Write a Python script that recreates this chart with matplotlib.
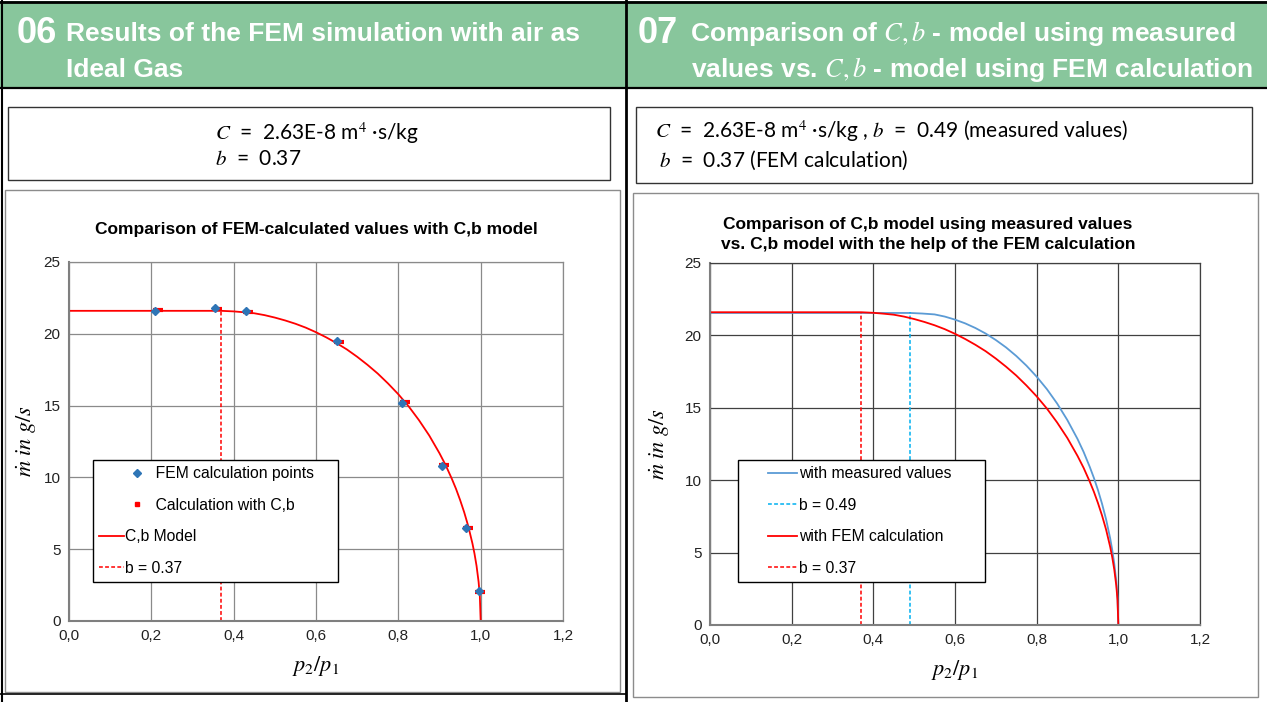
import numpy as np
import matplotlib.pyplot as plt
from matplotlib.patches import Rectangle
from matplotlib.lines import Line2D
from matplotlib.legend_handler import HandlerLine2D
from matplotlib.ticker import FuncFormatter

plt.rcParams['font.family'] = ['Liberation Sans', 'DejaVu Sans']
plt.rcParams['mathtext.fontset'] = 'stix'

# ---- data ----
fem_x = [0.21, 0.355, 0.43, 0.65, 0.81, 0.905, 0.965, 0.995]
fem_y = [21.6, 21.8, 21.6, 19.5, 15.2, 10.8, 6.5, 2.1]
calc_x = [0.215, 0.36, 0.435, 0.655, 0.815, 0.91, 0.97, 0.998]
calc_y = [21.65, 21.7, 21.55, 19.4, 15.25, 10.85, 6.5, 2.05]

# C,b model curve, b = 0.37 (FEM)
fem_model_x = [0.0, 0.37, 0.40, 0.425, 0.45, 0.475, 0.50, 0.525, 0.55, 0.575, 0.60,
               0.625, 0.65, 0.675, 0.70, 0.725, 0.75, 0.775, 0.80, 0.825, 0.85,
               0.875, 0.90, 0.915, 0.93, 0.94, 0.95, 0.96, 0.97, 0.98, 0.985,
               0.99, 0.995, 0.998, 1.0]
fem_model_y = [21.6, 21.6, 21.56, 21.50, 21.43, 21.30, 21.13, 20.93, 20.70, 20.43,
               20.11, 19.75, 19.35, 18.91, 18.40, 17.84, 17.23, 16.54, 15.79, 14.95,
               13.99, 12.92, 11.68, 10.85, 9.90, 9.21, 8.43, 7.57, 6.59, 5.40, 4.69,
               3.84, 2.72, 1.72, 0.0]
# C,b model curve, b = 0.49 (measured)
meas_model_x = [0.0, 0.49, 0.52, 0.55, 0.575, 0.60, 0.625, 0.65, 0.675, 0.70, 0.725,
                0.75, 0.775, 0.80, 0.825, 0.85, 0.875, 0.90, 0.915, 0.93, 0.94,
                0.95, 0.96, 0.97, 0.98, 0.985, 0.99, 0.995, 0.998, 1.0]
meas_model_y = [21.55, 21.55, 21.51, 21.45, 21.30, 21.09, 20.83, 20.51, 20.13,
                19.68, 19.17, 18.58, 17.91, 17.15, 16.29, 15.30, 14.16, 12.85,
                11.95, 10.92, 10.17, 9.33, 8.38, 7.30, 5.99, 5.20, 4.25, 3.02,
                1.91, 0.0]
b_fem = 0.37
b_meas = 0.49
m_max = 21.6

W, H = 1267, 702
fig = plt.figure(figsize=(W / 100, H / 100), dpi=100)
bg = fig.add_axes([0, 0, 1, 1])
bg.set_xlim(0, W)
bg.set_ylim(H, 0)
bg.axis('off')

green = '#88C69C'
# headers
bg.add_patch(Rectangle((0, 1), 626, 87, fc=green, ec='none'))
bg.add_patch(Rectangle((627, 1), 640, 87, fc=green, ec='none'))
bg.plot([0, W], [1.5, 1.5], color='black', lw=2)
bg.plot([0, W], [88, 88], color='black', lw=1.6)
bg.plot([626, 626], [0, H], color='black', lw=2)
bg.plot([1.5, 1.5], [0, H], color='black', lw=1.5)
bg.plot([0, 626], [694, 694], color='black', lw=1.2)

hdr = dict(color='white', fontweight='bold', va='baseline')
bg.text(17, 43, '06', fontsize=26, **hdr)
bg.text(66, 41, 'Results of the FEM simulation with air as', fontsize=19, **hdr)
bg.text(66, 77, 'Ideal Gas', fontsize=19, **hdr)
bg.text(638, 43, '07', fontsize=26, **hdr)
bg.text(690, 41, 'Comparison of $C, b$ - model using measured', fontsize=19, **hdr)
bg.text(1253, 77, 'values vs. $C, b$ - model using FEM calculation', fontsize=19,
        ha='right', **hdr)

# formula boxes
bg.add_patch(Rectangle((8, 107), 602, 73, fc='white', ec='#333333', lw=1))
bg.add_patch(Rectangle((636, 107), 616, 76, fc='white', ec='#333333', lw=1))
box = dict(fontsize=15, family=['Lato', 'DejaVu Sans'], va='baseline', color='black')
bg.text(215, 140, r'$C$  =  2.63E-8 m$^{4}$ ·s/kg', **box)
bg.text(215, 165, r'$b$  =  0.37', **box)
bg.text(655, 138, r'$C$  =  2.63E-8 m$^{4}$ ·s/kg , $b$  =  0.49 (measured values)', **box)
bg.text(659, 167, r'$b$  =  0.37 (FEM calculation)', **box)

# chart frames
bg.add_patch(Rectangle((5, 190), 615, 502, fc='white', ec='#8c8c8c', lw=1))
bg.add_patch(Rectangle((633, 193), 625, 504, fc='white', ec='#8c8c8c', lw=1))


def px_axes(l, r, t, b):
    return fig.add_axes([l / W, (H - b) / H, (r - l) / W, (b - t) / H])


comma = FuncFormatter(lambda v, p: f'{v:.1f}'.replace('.', ','))


def style(ax, gc, ypad):
    ax.set_xlim(0, 1.2)
    ax.set_ylim(0, 25)
    ax.set_xticks(np.arange(0, 1.21, 0.2))
    ax.set_yticks(np.arange(0, 26, 5))
    ax.xaxis.set_major_formatter(comma)
    ax.grid(True, color=gc, lw=0.9)
    ax.set_axisbelow(True)
    for s in ax.spines.values():
        s.set_color(gc)
        s.set_linewidth(0.9)
    ax.spines['left'].set_color('#7f7f7f')
    ax.spines['bottom'].set_color('#7f7f7f')
    ax.spines['left'].set_linewidth(1.5)
    ax.spines['bottom'].set_linewidth(1.5)
    ax.tick_params(length=0, labelsize=11, pad=6, colors='#222222')
    ax.set_xlabel('$p_2/p_1$', fontsize=16, labelpad=8)
    ax.set_ylabel(r'$\dot{m}\ in\ g/s$', fontsize=16, labelpad=ypad)


red_dash = (0, (2.5, 1.5))
lfs = 11.3
leg_kw = dict(loc='upper left', mode='expand', fontsize=lfs, frameon=True,
              fancybox=False, edgecolor='black', framealpha=1, borderpad=0.4,
              labelspacing=1.05, handletextpad=0.1, borderaxespad=0)


def px_bbox(l, r, t, b):
    return ((l / W, (H - b) / H, (r - l) / W, (b - t) / H))


# ---- chart 06 ----
ax1 = px_axes(69, 563, 262, 621)
style(ax1, '#8a8a8a', 4)
ax1.set_title('Comparison of FEM-calculated values with C,b model',
              fontsize=12.5, fontweight='bold', pad=20)
ax1.plot(fem_model_x, fem_model_y, color='#FF0000', lw=1.3)
ax1.plot([b_fem, b_fem], [0, m_max], color='#FF0000', lw=1.1, ls=red_dash)
ax1.plot(calc_x, calc_y, ls='none', marker='_', ms=7, mew=3, color='#FF0000')
ax1.plot(fem_x, fem_y, ls='none', marker='D', ms=4.5, color='#2E75B6')

mk_handler = HandlerLine2D(xpad=52 / (lfs * 100 / 72))
h1 = [Line2D([], [], ls='none', marker='D', ms=4.5, color='#2E75B6'),
      Line2D([], [], ls='none', marker='s', ms=3.5, color='#FF0000'),
      Line2D([], [], color='#FF0000', lw=1.3),
      Line2D([], [], color='#FF0000', lw=1.1, ls=red_dash)]
l1 = ['       FEM calculation points', '       Calculation with C,b',
      'C,b Model', 'b = 0.37']
leg1 = ax1.legend(h1, l1, bbox_to_anchor=px_bbox(93, 338, 460, 580),
                  bbox_transform=fig.transFigure, handlelength=1.55,
                  handler_map={h1[0]: mk_handler, h1[1]: mk_handler}, **leg_kw)
leg1.get_frame().set_linewidth(1.0)

# ---- chart 07 ----
ax2 = px_axes(710, 1200, 263, 625)
style(ax2, '#404040', 10)
ax2.set_title('Comparison of C,b model using measured values\n'
              'vs. C,b model with the help of the FEM calculation',
              fontsize=12.5, fontweight='bold', pad=10, linespacing=1.45, x=0.445)
ax2.plot(meas_model_x, meas_model_y, color='#5B9BD5', lw=1.3)
ax2.plot([b_meas, b_meas], [0, m_max], color='#00B0F0', lw=1.1, ls=red_dash)
ax2.plot(fem_model_x, fem_model_y, color='#FF0000', lw=1.3)
ax2.plot([b_fem, b_fem], [0, m_max], color='#FF0000', lw=1.1, ls=red_dash)

ln_handler = HandlerLine2D(xpad=24 / (lfs * 100 / 72))
h2 = [Line2D([], [], color='#5B9BD5', lw=1.3),
      Line2D([], [], color='#00B0F0', lw=1.1, ls=red_dash),
      Line2D([], [], color='#FF0000', lw=1.3),
      Line2D([], [], color='#FF0000', lw=1.1, ls=red_dash)]
l2 = ['with measured values', 'b = 0.49', 'with FEM calculation', 'b = 0.37']
leg2 = ax2.legend(h2, l2, bbox_to_anchor=px_bbox(738, 985, 460, 577),
                  bbox_transform=fig.transFigure, handlelength=53 / (lfs * 100 / 72),
                  handler_map={h: ln_handler for h in h2}, **leg_kw)
leg2.get_frame().set_linewidth(1.0)

fig.savefig('out.png', dpi=100)
